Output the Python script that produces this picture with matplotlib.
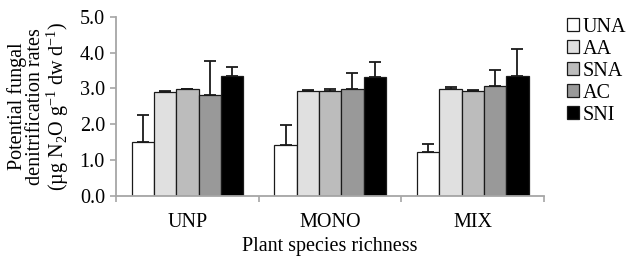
import numpy as np
import matplotlib
matplotlib.use('Agg')
import matplotlib.pyplot as plt

plt.rcParams['font.family'] = ['Liberation Serif', 'DejaVu Serif']
plt.rcParams['mathtext.fontset'] = 'custom'
plt.rcParams['mathtext.rm'] = 'Liberation Serif'

groups = ['UNP', 'MONO', 'MIX']
series = ['UNA', 'AA', 'SNA', 'AC', 'SNI']
colors = ['#ffffff', '#e0e0e0', '#bcbcbc', '#999999', '#000000']

una = [1.50, 1.42, 1.22]
aa = [2.90, 2.93, 2.97]
sna = [2.97, 2.94, 2.92]
ac = [2.82, 2.98, 3.06]
sni = [3.35, 3.33, 3.35]

una_err = [0.76, 0.56, 0.24]
aa_err = [0.03, 0.03, 0.08]
sna_err = [0.02, 0.04, 0.03]
ac_err = [0.94, 0.44, 0.45]
sni_err = [0.25, 0.40, 0.76]

vals = [una, aa, sna, ac, sni]
errs = [una_err, aa_err, sna_err, ac_err, sni_err]

fs = 14.5
fig = plt.figure(figsize=(6.27, 2.6), dpi=100)
ax = fig.add_axes([0.185, 0.246, 0.683, 0.690])

x = np.arange(len(groups)) + 0.5
w = 0.156
for i, name in enumerate(series):
    ax.bar(x + (i - 2) * w, vals[i], w, color=colors[i], edgecolor='#1a1a1a',
           linewidth=0.9, label=name, zorder=2)
    ax.errorbar(x + (i - 2) * w, vals[i], yerr=[np.zeros(3), errs[i]], fmt='none',
                ecolor='#1a1a1a', elinewidth=1.3, capsize=4, capthick=1.3, zorder=3)

ax.set_xlim(0, 3)
ax.set_ylim(0, 5)
ax.set_yticks([0, 1, 2, 3, 4, 5])
ax.set_yticklabels(['%.1f' % v for v in [0, 1, 2, 3, 4, 5]], fontsize=fs)
ax.set_xticks([0, 1, 2, 3])
ax.set_xticklabels([])
ax.set_xticks(x, minor=True)
ax.set_xticklabels(groups, minor=True, fontsize=fs)
ax.tick_params(axis='x', which='minor', length=0, pad=12)
ax.tick_params(axis='x', which='major', length=4, color='#a6a6a6', width=1.2)
ax.tick_params(axis='y', length=4, color='#a6a6a6', width=1.2, pad=4)

for s in ['top', 'right']:
    ax.spines[s].set_visible(False)
for s in ['left', 'bottom']:
    ax.spines[s].set_color('#a6a6a6')
    ax.spines[s].set_linewidth(1.3)

ax.set_xlabel('Plant species richness', fontsize=fs, labelpad=4)
ax.set_ylabel('Potential fungal\ndenitrification rates\n(µg N$_\\mathregular{2}$O g$^\\mathregular{-1}$ dw d$^\\mathregular{-1}$)',
              fontsize=fs, linespacing=0.95, labelpad=6)

leg = ax.legend(loc='upper left', bbox_to_anchor=(1.035, 1.04), frameon=False,
                fontsize=fs, handlelength=0.6, handleheight=0.6, handletextpad=0.15,
                labelspacing=0.15, borderaxespad=0)

fig.savefig('out.png', dpi=100)
